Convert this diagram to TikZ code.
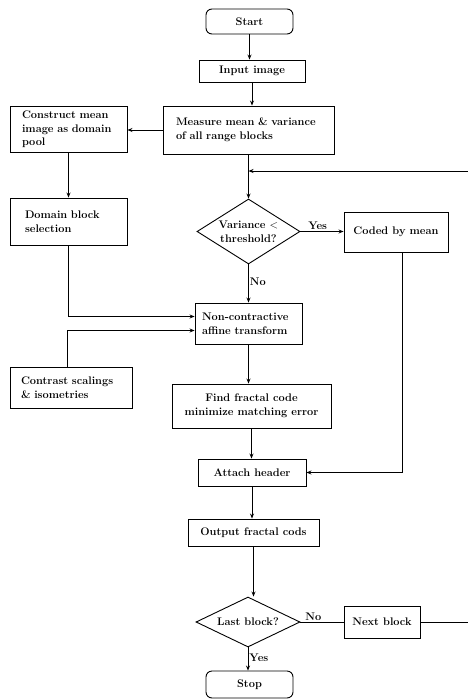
\documentclass[tikz,border=0pt]{standalone}
\usetikzlibrary{shapes.geometric,arrows.meta,calc}
\begin{document}
\begin{tikzpicture}[x=1pt,y=-1pt,
  every node/.style={font=\fontsize{11}{14}\selectfont\bfseries},
  box/.style={draw, line width=0.9pt},
  rbox/.style={box, rounded corners=6pt},
  dia/.style={box, diamond, inner sep=0pt},
  ln/.style={line width=0.9pt},
  arr/.style={ln, -{Stealth[length=5pt,width=4pt]}},
  lbl/.style={inner sep=1pt}]
\useasboundingbox (0,0) rectangle (468,699);

\node[rbox, minimum width=87pt, minimum height=25pt] (start) at (249.5,21.5) {Start};
\node[box, minimum width=106pt, minimum height=22pt] (input) at (252,71) {Input image};
\node[box, text width=145pt, inner xsep=13pt, align=left, minimum height=48pt] (meas) at (248.5,130) {Measure mean \& variance\\of all range blocks};
\node[box, text width=93pt, inner xsep=12pt, align=left, minimum height=46pt, font=\fontsize{11}{13.5}\selectfont\bfseries] (cons) at (68.5,129.5) {Construct mean\\image as domain\\pool};
\node[box, text width=87pt, inner xsep=15pt, align=left, minimum height=47pt] (dom) at (68.5,221.5) {Domain block\\selection};
\node[dia, aspect=1.6, minimum width=103pt, minimum height=65pt, align=center] (var) at (248.5,231.5) {Variance $<$\\threshold?};
\node[box, minimum width=104pt, minimum height=40pt] (coded) at (396,232) {Coded by mean};
\node[box, text width=93pt, inner xsep=7pt, align=left, minimum height=41pt] (nc) at (248.5,323.5) {Non-contractive\\affine transform};
\node[box, text width=100pt, inner xsep=11pt, align=left, minimum height=41pt] (cs) at (71,387.5) {Contrast scalings\\\& isometries};
\node[box, minimum width=159pt, minimum height=44pt, align=center] (find) at (251.5,406) {Find fractal code\\minimize matching error};
\node[box, minimum width=108pt, minimum height=27pt] (attach) at (252,472.5) {Attach header};
\node[box, minimum width=131pt, minimum height=27pt] (output) at (253.5,532.5) {Output fractal cods};
\node[dia, aspect=2, minimum width=104pt, minimum height=50pt] (last) at (248,622) {Last block?};
\node[box, minimum width=76pt, minimum height=32pt] (next) at (382,622) {Next block};
\node[rbox, minimum width=87pt, minimum height=27pt] (stop) at (249.5,684.5) {Stop};

\coordinate (join) at (meas.south |- 0,171);

\draw[arr] (start.south) -- (start.south |- input.north);
\draw[arr] (input.south) -- (input.south |- meas.north);
\draw[arr] (meas.west) -- (meas.west -| cons.east);
\draw[arr] (cons.south) -- (dom.north);
\draw[arr] (meas.south) -- (var.north);
\draw[arr] (var.east) -- node[lbl, above, pos=0.4] {Yes} (var.east -| coded.west);
\draw[arr] (var.south) -- node[lbl, right, pos=0.45] {No} (nc.north);
\draw[arr] (dom.south) |- ([yshift=7pt]nc.west);
\draw[arr] ([xshift=-4pt]cs.north) |- ([yshift=-7pt]nc.west);
\draw[arr] (nc.south) -- (nc.south |- find.north);
\draw[arr] (find.south) -- (find.south |- attach.north);
\draw[arr] ([xshift=6pt]coded.south) |- (attach.east);
\draw[arr] (attach.south) -- (attach.south |- output.north);
\draw[arr] (output.south) -- (output.south |- last.north);
\draw[ln] (last.east) -- node[lbl, above, pos=0.3] {No} (last.east -| next.west);
\draw[arr] (last.south) -- node[lbl, right, pos=0.45] {Yes} (last.south |- stop.north);
\draw[arr] (next.east) -- ++(52,0) |- (join);
\end{tikzpicture}
\end{document}
